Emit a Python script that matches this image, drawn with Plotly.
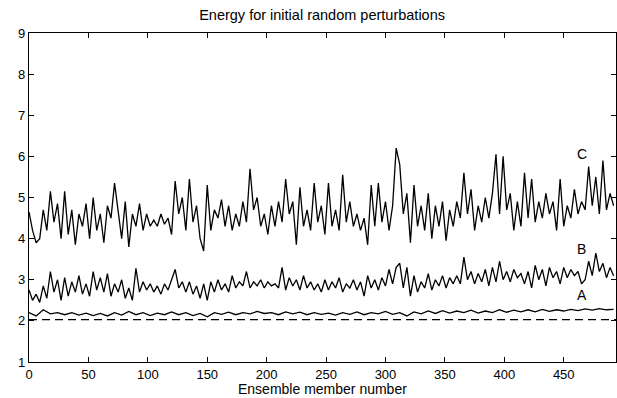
import plotly.graph_objects as go

# Ensemble member numbers (sampled every 3 for C and B, every 6 for A)
step_cb = 3
step_a = 6

curve_c = [4.65, 4.2, 3.9, 4.0, 4.7, 4.2, 5.15, 4.4, 4.85, 4.0,
           5.15, 4.1, 4.7, 3.85, 4.6, 4.3, 4.85, 4.0, 5.0, 4.2,
           4.6, 3.9, 4.8, 4.5, 5.35, 4.7, 4.0, 4.9, 3.8, 4.6,
           4.3, 4.85, 4.2, 4.6, 4.3, 4.45, 4.3, 4.6, 4.35, 4.5,
           4.1, 5.4, 4.6, 5.0, 4.2, 5.45, 4.4, 4.8, 4.0, 3.7,
           5.3, 4.2, 4.7, 4.5, 4.95, 4.3, 4.8, 4.2, 4.6, 4.3,
           4.9, 4.4, 5.7, 4.7, 5.0, 4.3, 4.6, 4.1, 4.8, 4.3,
           4.9, 4.4, 5.45, 4.6, 4.9, 3.85, 5.25, 4.3, 4.7, 4.2,
           5.35, 4.4, 4.8, 4.1, 5.35, 4.3, 4.7, 4.2, 5.55, 4.4,
           4.9, 4.3, 4.6, 4.2, 4.5, 3.85, 5.3, 4.3, 5.35, 4.4,
           4.9, 4.2, 4.8, 6.2, 5.8, 4.6, 5.1, 3.9, 5.3, 4.3,
           4.8, 4.2, 5.1, 4.0, 4.8, 4.3, 4.9, 3.95, 4.7, 4.3,
           4.9, 4.5, 5.6, 4.6, 5.2, 4.2, 4.8, 4.4, 5.0, 4.5,
           5.1, 6.05, 4.6, 6.0, 4.7, 5.1, 4.2, 4.9, 4.3, 5.6,
           4.5, 5.45, 4.4, 4.9, 4.5, 5.1, 4.6, 4.9, 4.2, 5.45,
           4.3, 4.8, 4.5, 5.2, 4.6, 4.9, 4.7, 5.75, 4.8, 5.5,
           4.6, 5.9, 4.7, 5.1, 4.8]

curve_b = [2.75, 2.5, 2.65, 2.45, 2.85, 2.55, 3.2, 2.7, 3.0, 2.5,
           3.05, 2.6, 2.95, 2.7, 3.1, 2.65, 2.9, 2.6, 3.2, 2.75,
           3.05, 2.7, 3.15, 2.6, 2.9, 2.7, 3.0, 2.55, 2.8, 2.5,
           3.28, 2.7, 2.95, 2.75, 2.9, 2.7, 2.85, 2.65, 2.9, 2.75,
           3.0, 3.25, 2.8, 2.95, 2.7, 2.95, 2.65, 2.85, 2.55, 2.9,
           2.5, 2.95, 2.7, 3.0, 2.75, 2.9, 2.7, 3.1, 2.8, 2.95,
           2.85, 3.2, 2.8, 2.95, 2.85, 3.0, 2.8, 2.95, 2.85, 2.9,
           2.8, 3.3, 2.75, 3.05, 2.85, 3.0, 2.75, 3.1, 2.8, 2.95,
           2.75, 2.9, 2.7, 3.0, 2.75, 2.95, 2.8, 3.05, 2.7, 2.9,
           2.8, 3.0, 2.75, 2.95, 2.6, 3.1, 2.8, 3.0, 2.75, 3.05,
           2.85, 3.25, 2.9, 3.3, 3.4, 2.8, 3.3, 2.6, 3.1, 2.7,
           2.95, 2.8, 3.15, 2.75, 3.0, 2.85, 3.1, 2.8, 3.05, 2.9,
           3.1, 2.9, 3.55, 3.0, 3.2, 2.9, 3.15, 2.95, 3.25, 2.85,
           3.3, 2.95, 3.45, 3.0, 3.2, 2.95, 3.25, 3.05, 3.15, 2.9,
           3.2, 2.8, 3.35, 3.0, 3.25, 2.85, 3.3, 3.05, 3.2, 2.9,
           3.3, 3.05, 3.25, 3.1, 3.2, 2.9, 3.0, 3.45, 3.1, 3.65,
           3.2, 3.4, 3.05, 3.3, 3.1]

curve_a = [2.2, 2.12, 2.27, 2.17, 2.2, 2.15, 2.2, 2.14, 2.19, 2.13,
           2.18, 2.12, 2.2, 2.14, 2.23, 2.15, 2.2, 2.13, 2.19, 2.15,
           2.22, 2.15, 2.2, 2.13, 2.18, 2.1, 2.2, 2.16, 2.21, 2.15,
           2.2, 2.17, 2.23, 2.18, 2.2, 2.15, 2.22, 2.17, 2.21, 2.15,
           2.2, 2.16, 2.19, 2.14, 2.2, 2.16, 2.22, 2.15, 2.2, 2.17,
           2.23, 2.16, 2.2, 2.12, 2.22, 2.17, 2.24, 2.18, 2.25, 2.19,
           2.24, 2.2, 2.26, 2.19, 2.24, 2.2, 2.27, 2.21, 2.26, 2.22,
           2.27, 2.22, 2.28, 2.23, 2.27, 2.24, 2.28, 2.25, 2.29, 2.26,
           2.3, 2.27, 2.28]

reference_level = 2.03
x_max = 494

members_cb = list(range(0, step_cb * len(curve_c), step_cb))
members_a = list(range(0, step_a * len(curve_a), step_a))

labels = ["C", "B", "A"]
label_x = [465, 465, 465]
label_y = [6.05, 3.75, 2.62]

FONT = "Liberation Sans, Arial"
line_style = dict(color="black", width=1.3)

fig = go.Figure()
fig.add_trace(go.Scatter(x=members_cb, y=curve_c, mode="lines", line=line_style, showlegend=False))
fig.add_trace(go.Scatter(x=members_cb, y=curve_b, mode="lines", line=line_style, showlegend=False))
fig.add_trace(go.Scatter(x=members_a, y=curve_a, mode="lines", line=line_style, showlegend=False))
fig.add_trace(go.Scatter(x=[0, x_max], y=[reference_level, reference_level], mode="lines",
                         line=dict(color="black", width=1.1, dash="8px,5px"), showlegend=False))

for t, lx, ly in zip(labels, label_x, label_y):
    fig.add_annotation(x=lx, y=ly, text=t, showarrow=False,
                       font=dict(size=14, color="black", family=FONT))

# x-axis title placed at the bottom of the page
fig.add_annotation(x=0.5, xref="paper", y=-36 / 329, yref="paper", yanchor="bottom",
                   text="Ensemble member number", showarrow=False, borderpad=0,
                   font=dict(size=14, color="black", family=FONT))

axis_common = dict(showline=True, linecolor="black", linewidth=1.2, mirror="ticks",
                   ticks="inside", ticklen=5, tickcolor="black", showgrid=False,
                   zeroline=False, tickfont=dict(size=13, color="black", family=FONT))

fig.update_layout(
    width=617, height=398,
    margin=dict(l=29, r=1, t=33, b=36),
    paper_bgcolor="white", plot_bgcolor="white",
    title=dict(text="Energy for initial random perturbations", x=0.522, xanchor="center",
               y=0.963, yanchor="middle",
               font=dict(size=14.5, color="black", family=FONT)),
    xaxis=dict(range=[0, x_max], tickvals=list(range(0, 451, 50)), **axis_common),
    yaxis=dict(range=[1, 9], tickvals=list(range(1, 10)), **axis_common),
)

fig.write_html("out.html")
